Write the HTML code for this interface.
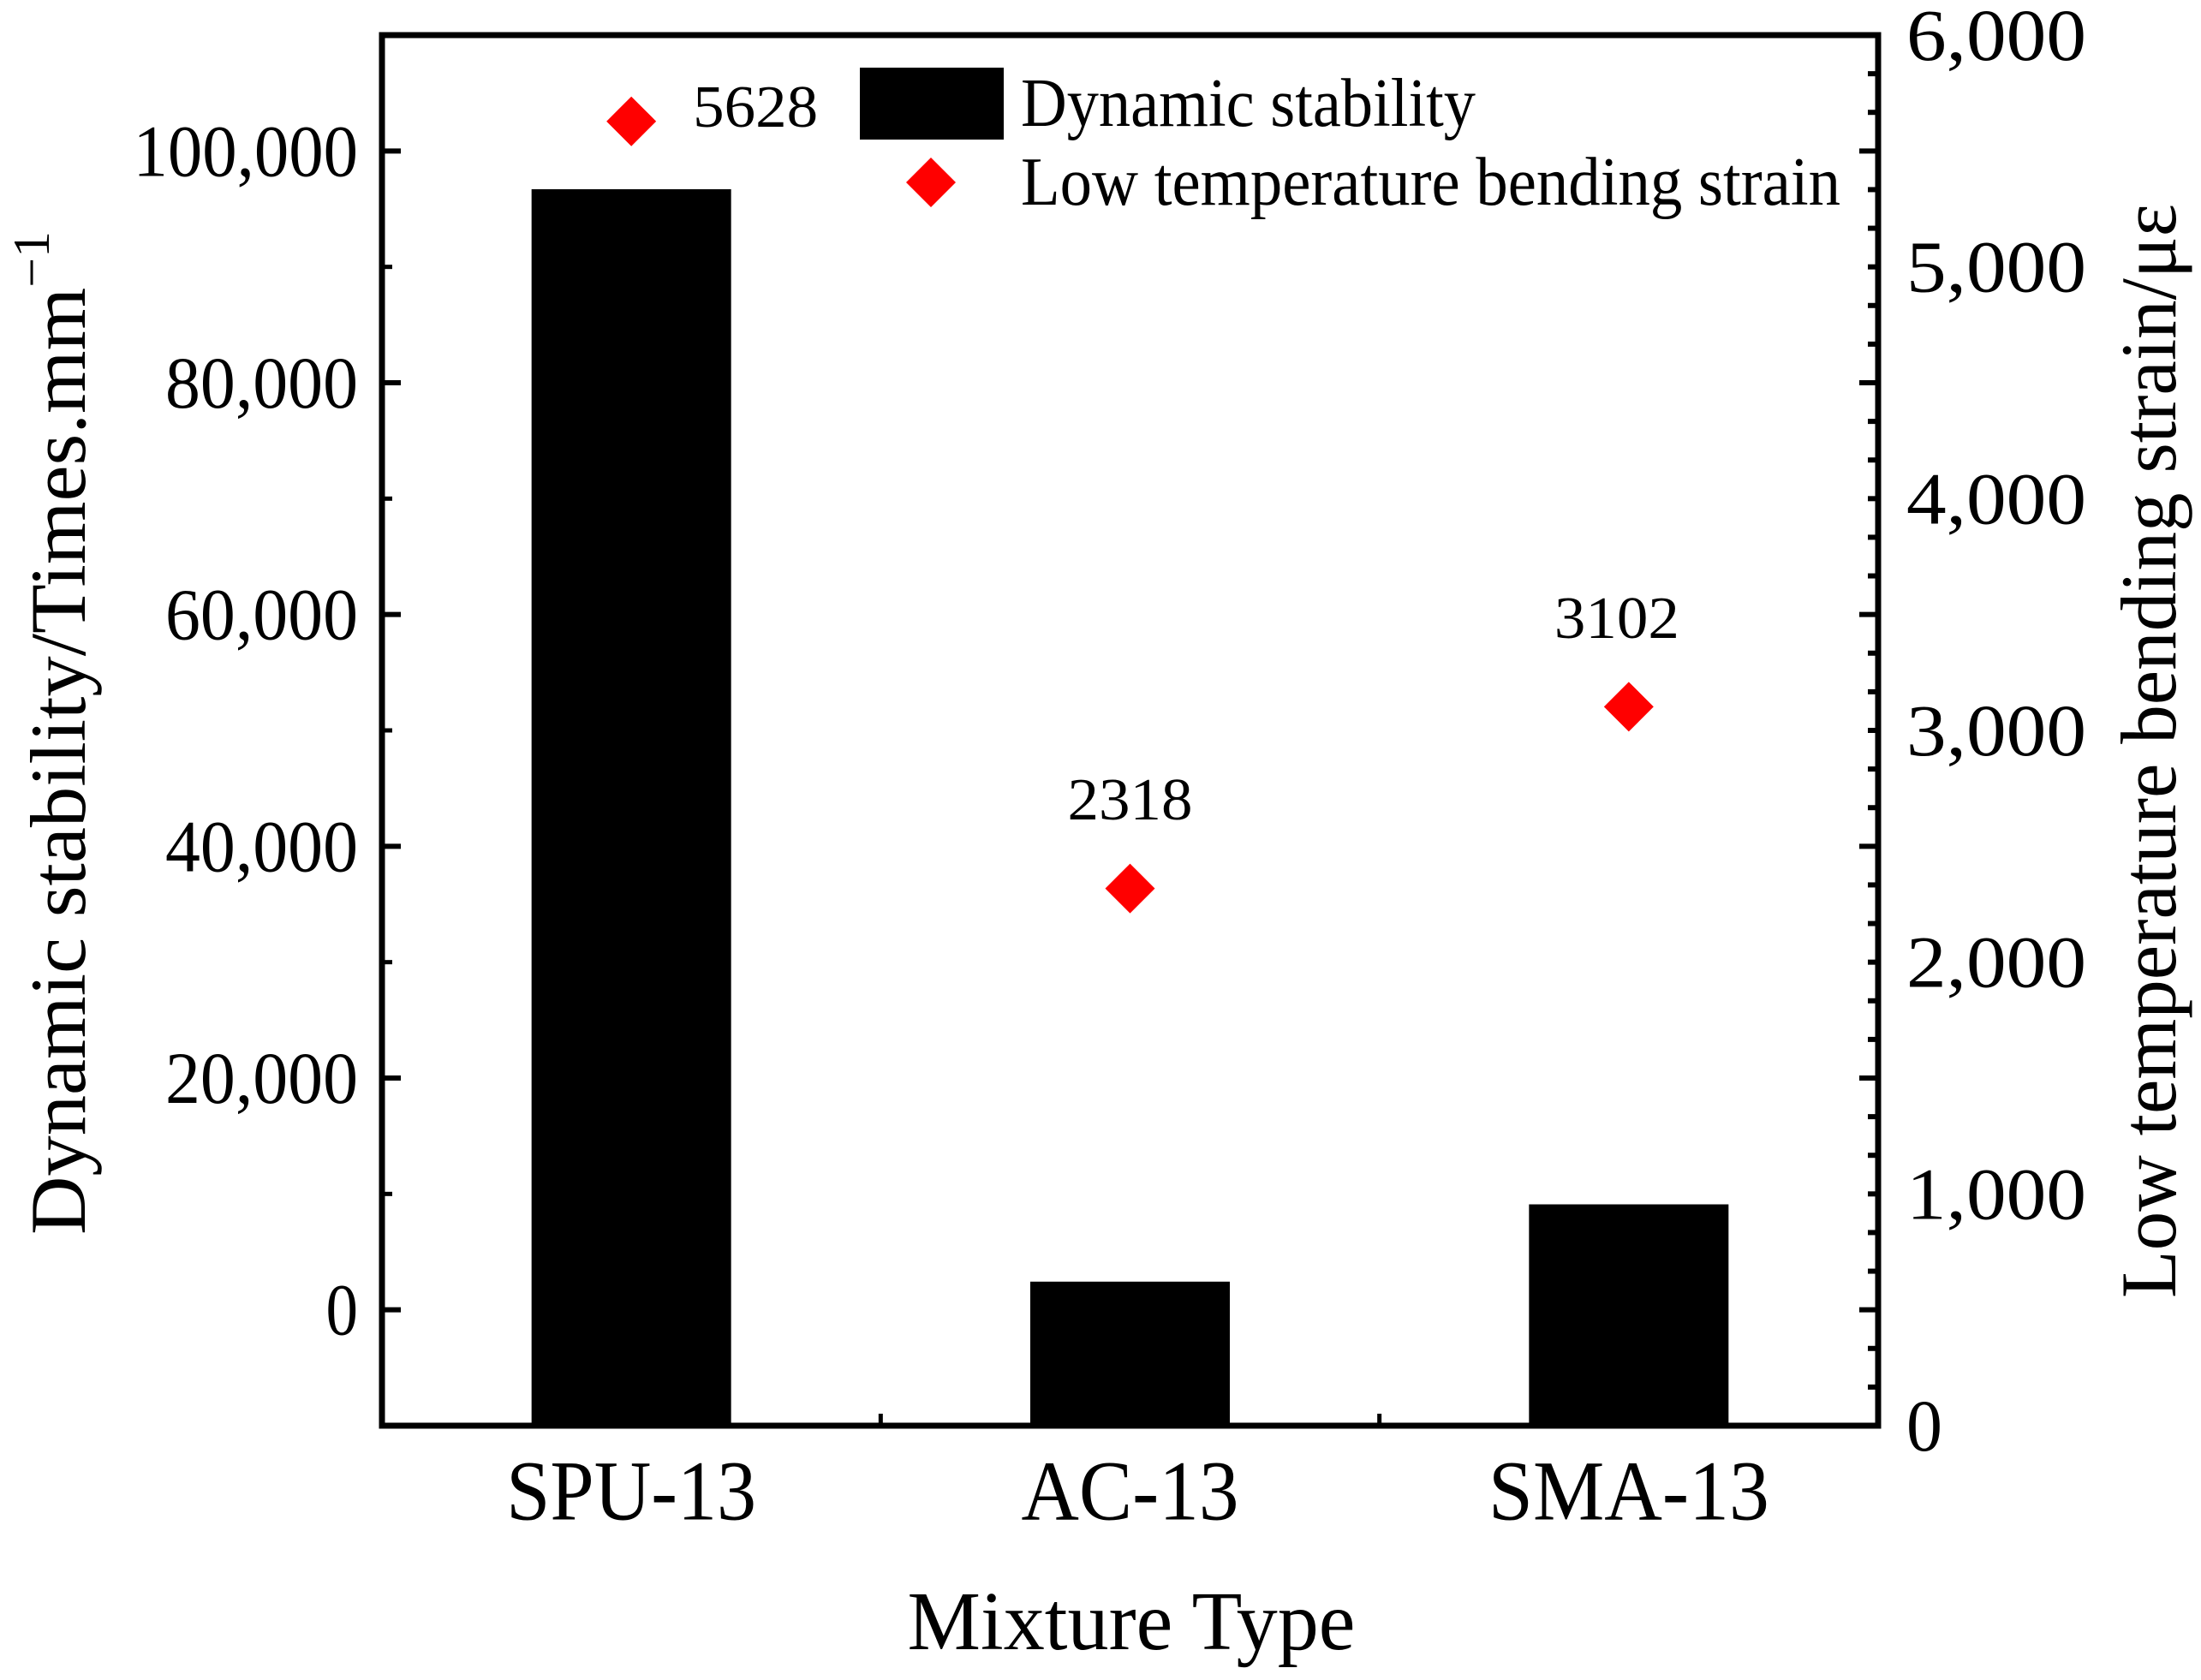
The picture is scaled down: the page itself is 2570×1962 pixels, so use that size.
<!DOCTYPE html>
<html><head><meta charset="utf-8"><style>
html,body{margin:0;padding:0;background:#fff;}
svg{display:block;font-family:"Liberation Serif","Times New Roman",serif;}
</style></head><body>
<svg id="chart" width="2570" height="1962" viewBox="0 0 2570 1962" xmlns="http://www.w3.org/2000/svg">
<rect width="2570" height="1962" fill="#fff"/>
<g id="bars"></g>
<g id="points"></g>
<g id="axes"></g>
<g id="legend">
  <rect x="1004" y="79" width="168" height="84" fill="#000"/>
  <text x="1192" y="147" font-size="80" textLength="531" lengthAdjust="spacingAndGlyphs">Dynamic stability</text>
  <path d="M1087 184 L1116 213 L1087 242 L1058 213 Z" fill="#ff0000"/>
  <text x="1192" y="239" font-size="80" textLength="957" lengthAdjust="spacingAndGlyphs">Low temperature bending strain</text>
</g>
<text x="1321" y="1926" font-size="97" text-anchor="middle" textLength="523" lengthAdjust="spacingAndGlyphs">Mixture Type</text>
<text transform="translate(99,1442) rotate(-90)" font-size="92" textLength="1172" lengthAdjust="spacingAndGlyphs">Dynamic stability/Times.mm<tspan font-size="60" dy="-42">−1</tspan></text>
<text transform="translate(2540,1516) rotate(-90)" font-size="92" textLength="1278" lengthAdjust="spacingAndGlyphs">Low temperature bending strain/με</text>
</svg>
<script>
const categories = ["SPU-13", "AC-13", "SMA-13"];
const dynamicStability = [96700, 2430, 9100];
const bendingStrain = [5628, 2318, 3102];
const strainLabels = ["5628", "2318", "3102"];
const leftTicks = [0, 20000, 40000, 60000, 80000, 100000];
const leftTickLabels = ["0", "20,000", "40,000", "60,000", "80,000", "100,000"];
const rightTicks = [0, 1000, 2000, 3000, 4000, 5000, 6000];
const rightTickLabels = ["0", "1,000", "2,000", "3,000", "4,000", "5,000", "6,000"];

const NS = "http://www.w3.org/2000/svg";
const PL = 446, PR = 2193, PT = 41, PB = 1665;
const L_MIN = -10000, L_MAX = 110000, R_MIN = 0, R_MAX = 6000;
const catLabelLen = {"SPU-13": 292, "AC-13": 254, "SMA-13": 328};
function xPos(i){ return PL + (PR - PL) * (i + 0.5) / categories.length; }
function yLeft(v){ return PB - (v - L_MIN) / (L_MAX - L_MIN) * (PB - PT); }
function yRight(v){ return PB - (v - R_MIN) / (R_MAX - R_MIN) * (PB - PT); }
function mk(tag, attrs, parent){ const e = document.createElementNS(NS, tag); for (const k in attrs) e.setAttribute(k, attrs[k]); parent.appendChild(e); return e; }

const gBars = document.getElementById("bars");
const gPts = document.getElementById("points");
const gAx = document.getElementById("axes");
const BW = 233;

categories.forEach((c, i) => {
  const x = xPos(i);
  const yt = yLeft(dynamicStability[i]);
  const r = mk("rect", {x: x - BW/2, y: yt, width: BW, height: PB - yt, fill: "#000"}, gBars);
  
  

  const yp = yRight(bendingStrain[i]);
  const d = mk("path", {d: `M${x} ${yp-29} L${x+29} ${yp} L${x} ${yp+29} L${x-29} ${yp} Z`, fill: "#ff0000"}, gPts);
  
  

  const first = i === 0;
  const lx = first ? x + 145 : (i === 2 ? x - 14 : x);
  const t = mk("text", {x: lx, y: first ? yp - 16 : yp - 103, "font-size": 70, "text-anchor": "middle", "dominant-baseline": "central", textLength: 146, lengthAdjust: "spacingAndGlyphs"}, gPts);
  t.textContent = strainLabels[i];
  
  

  const xl = mk("text", {x: x, y: 1741, "font-size": 100, "text-anchor": "middle", "dominant-baseline": "central", textLength: catLabelLen[c] || 292, lengthAdjust: "spacingAndGlyphs"}, gAx);
  xl.textContent = c;
  
  
});

const frame = mk("rect", {x: PL, y: PT, width: PR - PL, height: PB - PT, fill: "none", stroke: "#000", "stroke-width": 7}, gAx);



for (let i = 1; i < categories.length; i++) {
  const xb = PL + (PR - PL) * i / categories.length;
  const tk = mk("line", {x1: xb, x2: xb, y1: PB, y2: PB - 14, stroke: "#000", "stroke-width": 5}, gAx);
  
  
}

leftTicks.forEach((v, i) => {
  const y = yLeft(v);
  const tk = mk("line", {x1: PL, x2: PL + 22, y1: y, y2: y, stroke: "#000", "stroke-width": 6}, gAx);
  
  
  const lb = mk("text", {x: 418, y: y, "font-size": 86, "text-anchor": "end", "dominant-baseline": "central", textLength: leftTickLabels[i].length * 37.5, lengthAdjust: "spacingAndGlyphs"}, gAx);
  lb.textContent = leftTickLabels[i];
  
  
});
for (let v = -10000; v <= 110000; v += 20000) {
  const y = yLeft(v);
  const tk = mk("line", {x1: PL, x2: PL + 12, y1: y, y2: y, stroke: "#000", "stroke-width": 5}, gAx);
  
  
}

for (let k = -3; k <= 33; k++) {
  const v = k * 20000 / 6;
  const y = yLeft(v);
  if (y < PT - 1 || y > PB + 1) continue;
  const major = k % 6 === 0;
  const tk = mk("line", {x1: PR, x2: PR - (major ? 22 : 12), y1: y, y2: y, stroke: "#000", "stroke-width": 6}, gAx);
  
  
}
rightTicks.forEach((v, i) => {
  const y = yRight(v);
  const lb = mk("text", {x: 2226, y: y, "font-size": 86, "text-anchor": "start", "dominant-baseline": "central", textLength: rightTickLabels[i].length * 42, lengthAdjust: "spacingAndGlyphs"}, gAx);
  lb.textContent = rightTickLabels[i];
  
  
});
</script>
</body></html>
